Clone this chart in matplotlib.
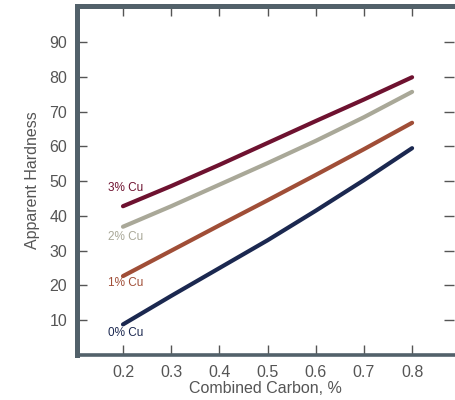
import matplotlib
matplotlib.use("Agg")
import matplotlib.pyplot as plt

plt.rcParams['font.family'] = ['Liberation Sans', 'DejaVu Sans']

# data
carbon = [0.2, 0.3, 0.4, 0.5, 0.6, 0.7, 0.8]
cu0 = [8.8, 17.0, 25.0, 33.0, 41.5, 50.3, 59.5]
cu1 = [22.7, 30.0, 37.3, 44.5, 51.8, 59.2, 66.8]
cu2 = [36.9, 42.8, 49.0, 55.2, 61.6, 68.4, 75.7]
cu3 = [42.8, 48.6, 54.7, 61.0, 67.3, 73.5, 79.9]
labels = ["0% Cu", "1% Cu", "2% Cu", "3% Cu"]
label_y = [6.3, 20.6, 34.0, 48.0]
colors = ["#1b2850", "#a04e37", "#a9a898", "#6e1230"]

xticks = [0.2, 0.3, 0.4, 0.5, 0.6, 0.7, 0.8]
yticks = [10, 20, 30, 40, 50, 60, 70, 80, 90]

fig = plt.figure(figsize=(4.55, 4.0), dpi=100)
ax = fig.add_axes([0.1692, 0.1125, 0.8286, 0.8725])

for ys, c in zip([cu0, cu1, cu2, cu3], colors):
    ax.plot(carbon, ys, color=c, lw=3.0, solid_capstyle='round')

for lab, ly, c in zip(labels, label_y, colors):
    ax.text(0.168, ly, lab, color=c, fontsize=8.5, va='center', ha='left')

ax.set_xlim(0.1045, 0.887)
ax.set_ylim(0, 100.4)
ax.set_xticks(xticks)
ax.set_xticklabels([str(t) for t in xticks])
ax.set_yticks(yticks)

spine_col = "#52616a"
ax.spines['left'].set_linewidth(3.6)
ax.spines['top'].set_linewidth(3.6)
ax.spines['bottom'].set_linewidth(2.6)
for s in ['left', 'bottom', 'top']:
    ax.spines[s].set_color(spine_col)
ax.spines['right'].set_visible(False)

ax.tick_params(direction='in', length=7.5, width=1, color="#555555",
               labelsize=11.5, labelcolor="#555555", pad=7,
               top=True, right=True)

ax.set_xlabel("Combined Carbon, %", fontsize=11.5, color="#555555", labelpad=1)
ax.set_ylabel("Apparent Hardness", fontsize=11.5, color="#555555", labelpad=7)

fig.savefig("out.png", dpi=100, facecolor='white')
